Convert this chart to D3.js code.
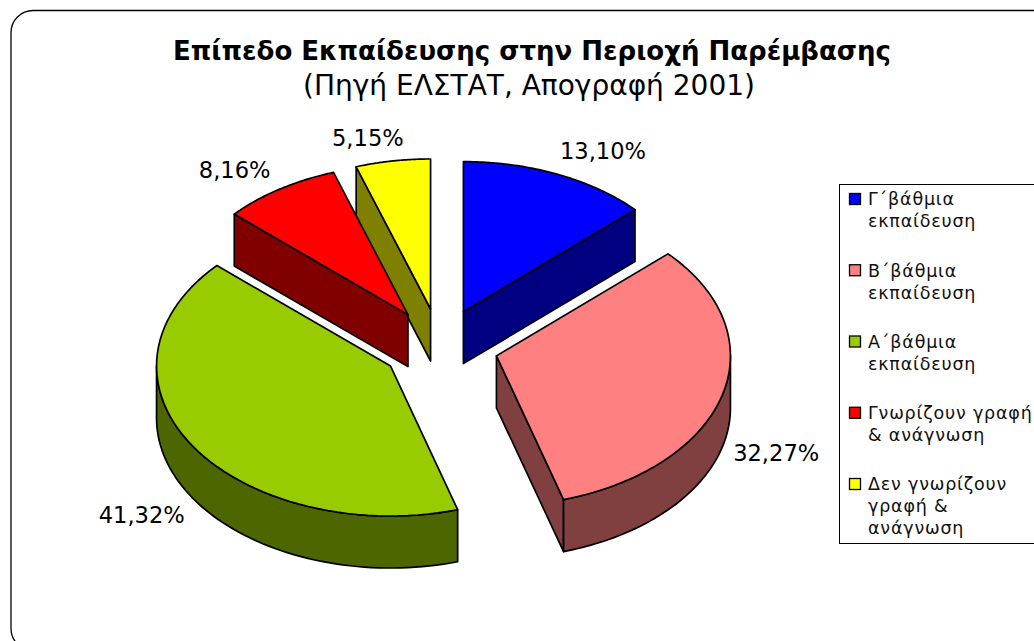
<!DOCTYPE html>
<html>
<head>
  <title>Επίπεδο Εκπαίδευσης</title>
  <script src="https://d3js.org/d3.v7.min.js"></script>
  <style>
    html, body { margin: 0; padding: 0; background: #fff; overflow: hidden; }
    text { font-family: "DejaVu Sans", Verdana, sans-serif; fill: #000; }
    .slice path { stroke: #000; stroke-width: 1.7px; stroke-linejoin: round; }
    .legend-text { font-size: 17.5px; letter-spacing: 0.8px; fill: #111; }
    .value-label { font-size: 22.6px; }
  </style>
</head>
<body>
  <div id="chart"></div>

  <script>
    // Chart data, clockwise from twelve o'clock
    const categories = [
      ["Γ΄βάθμια", "εκπαίδευση"],
      ["Β΄βάθμια", "εκπαίδευση"],
      ["Α΄βάθμια", "εκπαίδευση"],
      ["Γνωρίζουν γραφή", "& ανάγνωση"],
      ["Δεν γνωρίζουν", "γραφή &", "ανάγνωση"]
    ];
    const values = [13.10, 32.27, 41.32, 8.16, 5.15];
    const valueLabels = ["13,10%", "32,27%", "41,32%", "8,16%", "5,15%"];
    const topColors = ["#0000ff", "#ff8080", "#99cc00", "#ff0000", "#ffff00"];
    const wallColors = ["#000080", "#804040", "#4d6600", "#800000", "#808000"];

    // Layout
    const pieWidth = 1034, pieHeight = 641;
    const cx = 440, cy = 346, rx = 234, ry = 150, depth = 52, explode = 0.25;
    // nudge of each value label from the rim of its slice
    const labelNudge = [[46, -23], [54, 58], [-51, 69], [-45, -19], [-25, -23]];

    const svg = d3.select("#chart")
      .append("svg")
        .attr("width", pieWidth)
        .attr("height", pieHeight)
        .style("display", "block");

    // Frame around the chart, runs off the right and bottom of the page
    svg.append("rect")
      .attr("x", 11)
      .attr("y", 10.5)
      .attr("width", 1100)
      .attr("height", 640)
      .attr("rx", 22)
      .attr("fill", "#fff")
      .attr("stroke", "#000")
      .attr("stroke-width", 1.3);

    // Title
    svg.append("text")
      .attr("x", 532)
      .attr("y", 60)
      .attr("text-anchor", "middle")
      .style("font-size", "26px")
      .style("font-weight", "bold")
      .text("Επίπεδο Εκπαίδευσης στην Περιοχή Παρέμβασης");

    svg.append("text")
      .attr("x", 529)
      .attr("y", 95)
      .attr("text-anchor", "middle")
      .style("font-size", "28px")
      .text("(Πηγή ΕΛΣΤΑΤ, Απογραφή 2001)");

    // Unit circle to pixels, the y scale squashes it to fake the tilt
    const xScale = d3.scaleLinear().domain([-1, 1]).range([-rx, rx]);
    const yScale = d3.scaleLinear().domain([-1, 1]).range([-ry, ry]);

    const pie = d3.pie().sort(null).startAngle(0).endAngle(2 * Math.PI);
    const slices = pie(values).map((d, i) => {
      const mid = (d.startAngle + d.endAngle) / 2;
      return {
        ...d,
        index: i,
        mid: mid,
        apexX: cx + xScale(explode * Math.sin(mid)),
        apexY: cy + yScale(-explode * Math.cos(mid))
      };
    });

    const line = d3.line();

    function rimPoint(s, angle, drop) {
      return [s.apexX + xScale(Math.sin(angle)), s.apexY + yScale(-Math.cos(angle)) + drop];
    }

    function rimPoints(s, a0, a1, drop) {
      return d3.range(0, 1.0001, 1 / 60).map(t => rimPoint(s, a0 + (a1 - a0) * t, drop));
    }

    // Back slices first, so the front ones paint over them
    const drawOrder = slices.slice().sort((a, b) => Math.cos(b.mid) - Math.cos(a.mid));

    const groups = svg.selectAll(".slice")
      .data(drawOrder)
      .join("g")
        .attr("class", "slice");

    groups.each(function (s) {
      const g = d3.select(this);
      const wall = wallColors[s.index];

      // Cut faces, only the ones turned towards the viewer
      [[s.startAngle, Math.sin(s.startAngle) < -1e-6], [s.endAngle, Math.sin(s.endAngle) > 1e-6]]
        .filter(f => f[1])
        .forEach(f => {
          const rim = rimPoint(s, f[0], 0);
          g.append("path")
            .attr("fill", wall)
            .attr("d", line([[s.apexX, s.apexY], rim, [rim[0], rim[1] + depth], [s.apexX, s.apexY + depth]]) + "Z");
        });

      // Curved outer wall, the part on the lower half of the ellipse
      const a0 = Math.max(s.startAngle, Math.PI / 2);
      const a1 = Math.min(s.endAngle, 3 * Math.PI / 2);
      if (a0 < a1) {
        const pts = rimPoints(s, a0, a1, 0).concat(rimPoints(s, a1, a0, depth));
        g.append("path").attr("fill", wall).attr("d", line(pts) + "Z");
      }

      // Top of the slice
      const top = [[s.apexX, s.apexY]].concat(rimPoints(s, s.startAngle, s.endAngle, 0));
      g.append("path").attr("fill", topColors[s.index]).attr("d", line(top) + "Z");
    });

    // Value labels
    svg.selectAll(".value-label")
      .data(slices)
      .join("text")
        .attr("class", "value-label")
        .attr("text-anchor", "middle")
        .attr("dy", "0.36em")
        .attr("x", s => rimPoint(s, s.mid, 0)[0] + labelNudge[s.index][0])
        .attr("y", s => rimPoint(s, s.mid, 0)[1] + labelNudge[s.index][1])
        .text(s => valueLabels[s.index]);

    // Legend, the box also runs off the page
    svg.append("rect")
      .attr("x", 839.5)
      .attr("y", 184.5)
      .attr("width", 300)
      .attr("height", 359)
      .attr("fill", "#fff")
      .attr("stroke", "#000")
      .attr("stroke-width", 1);

    const legendRowTops = d3.scalePoint().domain(d3.range(5)).range([199, 484]);
    const legend = svg.selectAll(".legend-row")
      .data(categories)
      .join("g")
        .attr("class", "legend-row")
        .attr("transform", (d, i) => `translate(849, ${legendRowTops(i)})`);

    legend.append("rect")
      .attr("x", 0.5)
      .attr("y", -5.5)
      .attr("width", 11)
      .attr("height", 11)
      .attr("fill", (d, i) => topColors[i])
      .attr("stroke", "#000")
      .attr("stroke-width", 1.3);

    legend.selectAll("text")
      .data(d => d)
      .join("text")
        .attr("class", "legend-text")
        .attr("x", 19)
        .attr("y", (d, i) => i * 22)
        .attr("dy", "0.36em")
        .text(d => d);
  </script>
</body>
</html>
